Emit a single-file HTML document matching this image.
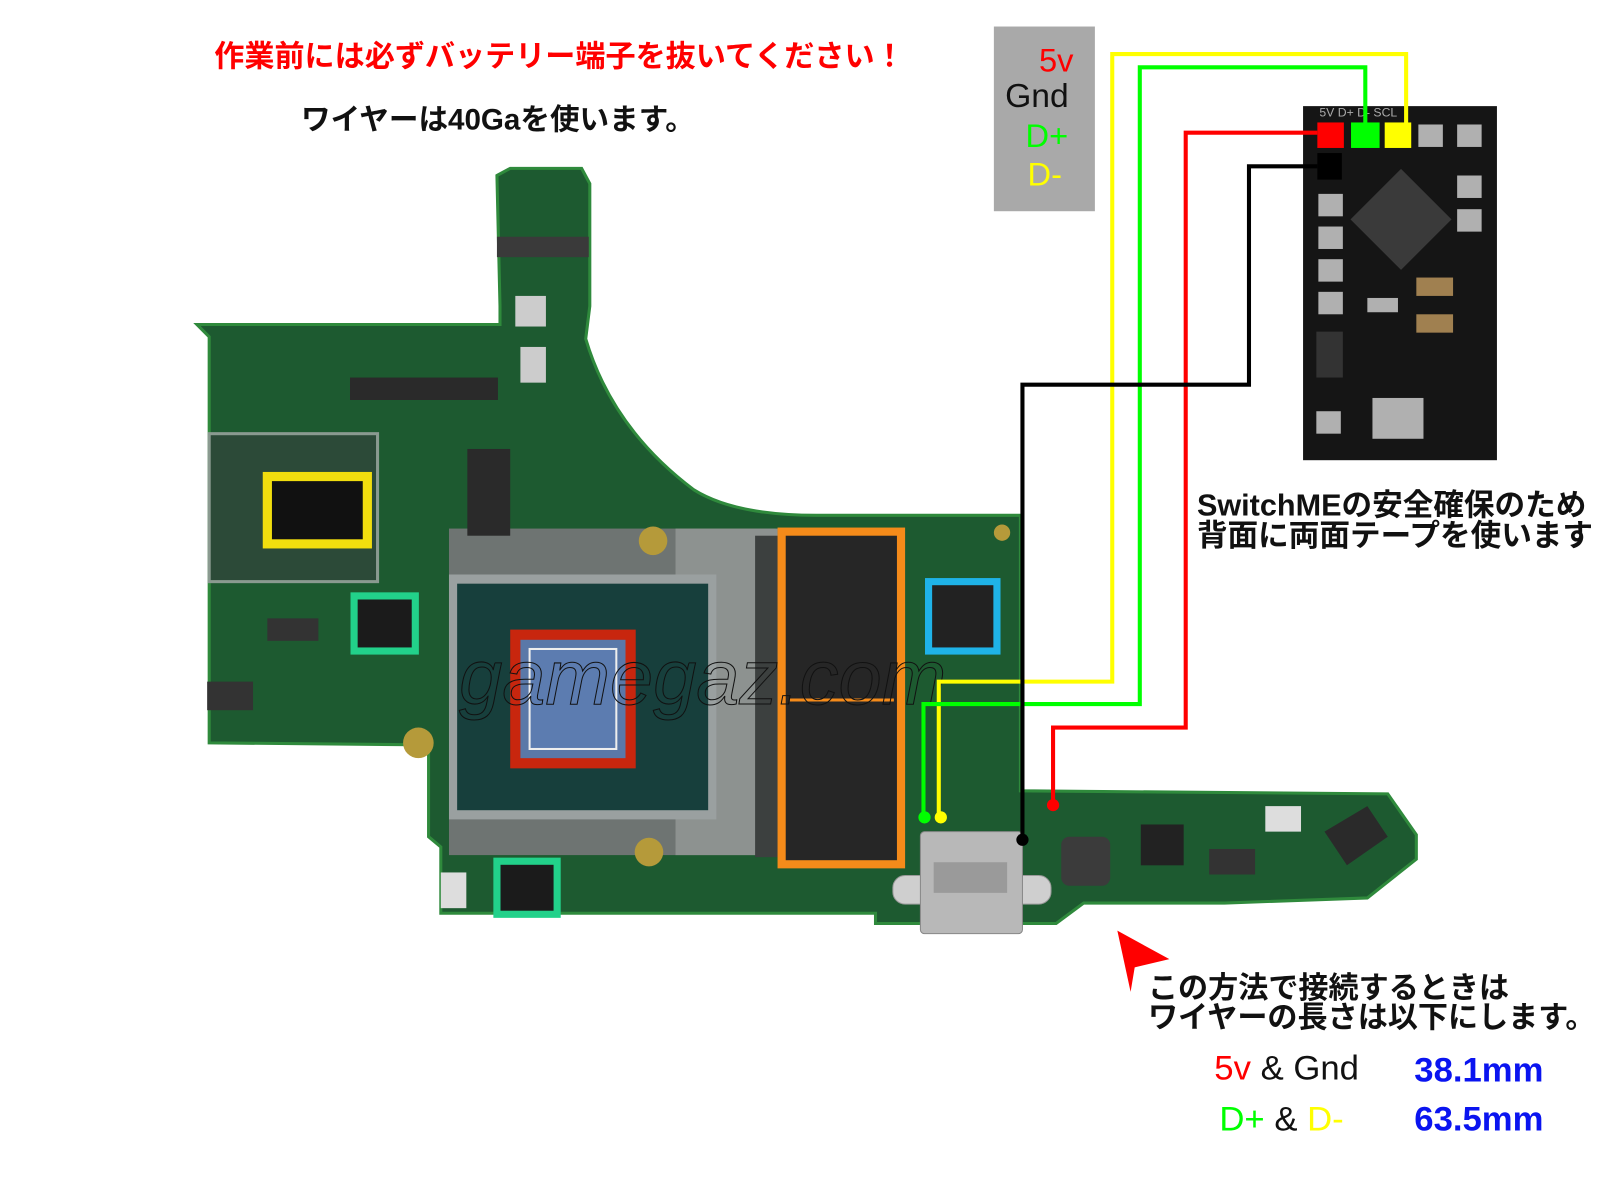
<!DOCTYPE html>
<html><head><meta charset="utf-8"><style>
html,body{margin:0;padding:0;background:#fff;}
svg{display:block}
text{font-family:"Liberation Sans","Noto Sans CJK JP",sans-serif;}
</style></head><body>
<svg width="1600" height="1200" viewBox="0 0 1568 1176" preserveAspectRatio="none" xmlns="http://www.w3.org/2000/svg">
<rect width="1568" height="1176" fill="#fff"/>
<path d="M487,172 L500,165 L570,165 L578,180 L578,300 L574,332 Q600,420 680,480 Q720,505 800,505 L1000,505 L1000,775 L1360,778 L1388,818 L1388,842 L1340,880 L1200,885 L1062,885 L1035,905 L858,905 L858,895 L432,895 L432,830 L420,820 L420,730 L205,728 L205,330 L193,318 L490,318 L490,300 Z" fill="#1d5a30" stroke="#2f8a3c" stroke-width="3"/>
<rect x="205" y="425" width="165" height="145" fill="#2c4a38" stroke="#8a9a90" stroke-width="3"/>
<rect x="440" y="518" width="320" height="320" fill="#6e7472"/>
<rect x="662" y="518" width="100" height="320" fill="#8d9290"/>
<rect x="440" y="563" width="262" height="240" fill="#9aa0a0"/>
<rect x="448" y="572" width="246" height="222" fill="#173f3c"/>
<rect x="740" y="525" width="22" height="315" fill="#3c403f"/>
<rect x="487" y="232" width="90" height="20" fill="#3a3a3a"/>
<rect x="343" y="370" width="145" height="22" fill="#2a2a2a"/>
<rect x="458" y="440" width="42" height="85" fill="#2a2a2a"/>
<rect x="262" y="606" width="50" height="22" fill="#333"/>
<rect x="203" y="668" width="45" height="28" fill="#333"/>
<rect x="1185" y="832" width="45" height="25" fill="#333"/>
<rect x="505" y="290" width="30" height="30" fill="#ccc"/>
<rect x="510" y="340" width="25" height="35" fill="#ccc"/>
<rect x="432" y="855" width="25" height="35" fill="#ddd"/>
<rect x="1240" y="790" width="35" height="25" fill="#ddd"/>
<polygon points="1298,815 1340,790 1360,820 1320,848" fill="#2a2a2a"/>
<rect x="1040" y="820" width="48" height="48" rx="8" fill="#3b3b3b"/>
<rect x="1118" y="808" width="42" height="40" fill="#222"/>
<rect x="875" y="858" width="155" height="28" rx="12" fill="#cfcfcf" stroke="#999"/>
<rect x="902" y="815" width="100" height="100" rx="4" fill="#b8b8b8" stroke="#888"/>
<rect x="915" y="845" width="72" height="30" fill="#9a9a9a"/>
<circle cx="640" cy="530" r="14" fill="#b59a3a"/>
<circle cx="410" cy="728" r="15" fill="#b59a3a"/>
<circle cx="636" cy="835" r="14" fill="#b59a3a"/>
<circle cx="982" cy="522" r="8" fill="#b59a3a"/>
<rect x="262" y="467" width="98" height="66" fill="#111" stroke="#f2de0e" stroke-width="9"/>
<rect x="347" y="584" width="60" height="54" fill="#1b1b1b" stroke="#22d18a" stroke-width="7"/>
<rect x="487" y="844" width="59" height="52" fill="#1b1b1b" stroke="#22d18a" stroke-width="7"/>
<rect x="505" y="622" width="113" height="126" fill="#5a78a8" stroke="#c8260e" stroke-width="10"/>
<rect x="519" y="636" width="85" height="98" fill="#5c7cb0" stroke="#eee" stroke-width="2"/>
<rect x="766" y="521" width="117" height="326" fill="#262626" stroke="#f58b1a" stroke-width="8"/>
<line x1="774" y1="686" x2="876" y2="686" stroke="#f58b1a" stroke-width="3"/>
<rect x="910" y="570" width="67" height="68" fill="#222" stroke="#1fb3e8" stroke-width="7"/>
<text x="450" y="690" font-family="Liberation Serif,serif" font-style="italic" font-size="76" fill="none" stroke="#111" stroke-width="1">gamegaz.com</text>
<rect x="1277" y="104" width="190" height="347" fill="#151515"/>
<rect x="1338" y="180" width="70" height="70" transform="rotate(45 1373 215)" fill="#3a3a3a"/>
<g fill="#b0b0b0"><rect x="1292" y="190" width="24" height="22"/><rect x="1292" y="222" width="24" height="22"/><rect x="1292" y="254" width="24" height="22"/><rect x="1292" y="286" width="24" height="22"/><rect x="1428" y="122" width="24" height="22"/><rect x="1428" y="172" width="24" height="22"/><rect x="1428" y="205" width="24" height="22"/><rect x="1290" y="403" width="24" height="22"/><rect x="1345" y="390" width="50" height="40"/><rect x="1390" y="122" width="24" height="22"/><rect x="1388" y="272" width="36" height="18" fill="#a08050"/><rect x="1388" y="308" width="36" height="18" fill="#a08050"/><rect x="1340" y="292" width="30" height="14"/><rect x="1290" y="325" width="26" height="45" fill="#333"/></g>
<rect x="1291" y="120" width="26" height="25" fill="#f00"/>
<rect x="1324" y="120" width="28" height="25" fill="#0f0"/>
<rect x="1357" y="120" width="26" height="25" fill="#ff0"/>
<rect x="1291" y="150" width="24" height="26" fill="#000"/>
<text x="1293" y="114" font-size="12" fill="#aaa">5V   D+   D-  SCL</text>
<g fill="none" stroke-width="4">
<polyline points="1378,120 1378,53 1090,53 1090,668 920,668 920,800" stroke="#ff0"/>
<polyline points="1338,120 1338,66 1117,66 1117,690 905,690 905,800" stroke="#0f0"/>
<polyline points="1291,130 1162,130 1162,713 1032,713 1032,788" stroke="#f00"/>
<polyline points="1291,163 1224,163 1224,377 1002,377 1002,822" stroke="#000"/>
</g>
<circle cx="906" cy="801" r="6" fill="#0f0"/>
<circle cx="922" cy="801" r="6" fill="#ff0"/>
<circle cx="1032" cy="789" r="6" fill="#f00"/>
<circle cx="1002" cy="823" r="6" fill="#000"/>
<rect x="974" y="26" width="99" height="181" fill="#a9a9a9"/>
<text x="1052" y="70" font-size="32" fill="#f00" text-anchor="end">5v</text>
<text x="985" y="105" font-size="33" fill="#111">Gnd</text>
<text x="1005" y="144" font-size="32" fill="#0f0">D+</text>
<text x="1007" y="182" font-size="32" fill="#ff0">D-</text>
<text x="210" y="65" font-size="29.5" font-weight="bold" fill="#f00">作業前には必ずバッテリー端子を抜いてください！</text>
<text x="295" y="127" font-size="29" font-weight="bold" fill="#111">ワイヤーは40Gaを使います。</text>
<text x="1173" y="505" font-size="30" font-weight="bold" fill="#111">SwitchMEの安全確保のため</text>
<text x="1173" y="535" font-size="30" font-weight="bold" fill="#111">背面に両面テープを使います</text>
<polygon points="1095,912 1146,940 1112,948 1108,972" fill="#f00"/>
<text x="1125" y="978" font-size="29.5" font-weight="bold" fill="#111">この方法で接続するときは</text>
<text x="1125" y="1007" font-size="29.5" font-weight="bold" fill="#111">ワイヤーの長さは以下にします。</text>
<text x="1190" y="1058" font-size="34" fill="#f00">5v <tspan fill="#111">&amp; Gnd</tspan></text>
<text x="1195" y="1108" font-size="34" fill="#0f0">D+ <tspan fill="#111">&amp;</tspan> <tspan fill="#ff0">D-</tspan></text>
<text x="1386" y="1060" font-size="34" font-weight="bold" fill="#0a14f0">38.1mm</text>
<text x="1386" y="1108" font-size="34" font-weight="bold" fill="#0a14f0">63.5mm</text>
</svg>
</body></html>
